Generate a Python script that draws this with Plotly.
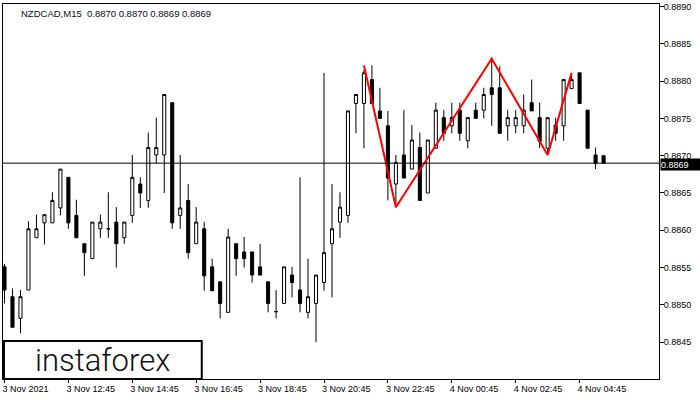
import plotly.graph_objects as go

# ---- data (NZDCAD M15) ----
opens = [0.88551, 0.88511, 0.88482, 0.88520, 0.88590, 0.88610, 0.88610, 0.88630, 0.88671, 0.88620,
         0.88582, 0.88562, 0.88602, 0.88602, 0.88611, 0.88590, 0.88620, 0.88662, 0.88640, 0.88701,
         0.88701, 0.88771, 0.88620, 0.88640, 0.88582, 0.88602, 0.88551, 0.88531, 0.88490, 0.88582,
         0.88571, 0.88571, 0.88551, 0.88531, 0.88491, 0.88502, 0.88540, 0.88520, 0.88490, 0.88502,
         0.88530, 0.88582, 0.88611, 0.88620, 0.88770, 0.88770, 0.88802, 0.88760, 0.88740, 0.88662,
         0.88701, 0.88682, 0.88711, 0.88650, 0.88710, 0.88751, 0.88740, 0.88761, 0.88720, 0.88761,
         0.88761, 0.88791, 0.88791, 0.88740, 0.88740, 0.88740, 0.88771, 0.88751, 0.88710, 0.88741,
         0.88740, 0.88790, 0.88811, 0.88761, 0.88701, 0.88700]
highs = [0.88555, 0.88522, 0.88520, 0.88612, 0.88621, 0.88621, 0.88651, 0.88682, 0.88671, 0.88641,
         0.88582, 0.88611, 0.88621, 0.88651, 0.88631, 0.88611, 0.88701, 0.88671, 0.88731, 0.88751,
         0.88782, 0.88771, 0.88701, 0.88662, 0.88631, 0.88611, 0.88562, 0.88531, 0.88602, 0.88582,
         0.88591, 0.88571, 0.88582, 0.88531, 0.88520, 0.88551, 0.88551, 0.88671, 0.88562, 0.88540,
         0.88811, 0.88662, 0.88651, 0.88760, 0.88782, 0.88815, 0.88821, 0.88791, 0.88760, 0.88701,
         0.88761, 0.88741, 0.88731, 0.88721, 0.88771, 0.88761, 0.88771, 0.88771, 0.88751, 0.88771,
         0.88791, 0.88830, 0.88820, 0.88761, 0.88761, 0.88782, 0.88802, 0.88771, 0.88751, 0.88751,
         0.88802, 0.88810, 0.88811, 0.88761, 0.88711, 0.88700]
lows = [0.88502, 0.88470, 0.88462, 0.88520, 0.88590, 0.88581, 0.88610, 0.88620, 0.88602, 0.88590,
        0.88539, 0.88562, 0.88590, 0.88590, 0.88550, 0.88582, 0.88610, 0.88630, 0.88630, 0.88690,
        0.88650, 0.88602, 0.88602, 0.88562, 0.88582, 0.88519, 0.88519, 0.88482, 0.88490, 0.88539,
        0.88550, 0.88530, 0.88540, 0.88490, 0.88482, 0.88502, 0.88510, 0.88490, 0.88482, 0.88450,
        0.88519, 0.88510, 0.88590, 0.88610, 0.88730, 0.88710, 0.88770, 0.88750, 0.88640, 0.88632,
        0.88670, 0.88682, 0.88640, 0.88650, 0.88710, 0.88720, 0.88730, 0.88720, 0.88710, 0.88750,
        0.88750, 0.88740, 0.88730, 0.88720, 0.88730, 0.88730, 0.88760, 0.88710, 0.88702, 0.88720,
        0.88720, 0.88790, 0.88770, 0.88710, 0.88682, 0.88690]
closes = [0.88520, 0.88470, 0.88511, 0.88602, 0.88602, 0.88621, 0.88640, 0.88682, 0.88610, 0.88590,
          0.88570, 0.88611, 0.88611, 0.88602, 0.88582, 0.88611, 0.88671, 0.88650, 0.88711, 0.88711,
          0.88782, 0.88610, 0.88630, 0.88570, 0.88611, 0.88539, 0.88519, 0.88502, 0.88591, 0.88562,
          0.88562, 0.88540, 0.88540, 0.88502, 0.88491, 0.88551, 0.88530, 0.88502, 0.88511, 0.88540,
          0.88570, 0.88602, 0.88631, 0.88760, 0.88782, 0.88811, 0.88770, 0.88750, 0.88670, 0.88691,
          0.88670, 0.88721, 0.88640, 0.88721, 0.88761, 0.88730, 0.88751, 0.88730, 0.88751, 0.88750,
          0.88782, 0.88782, 0.88730, 0.88751, 0.88751, 0.88761, 0.88760, 0.88719, 0.88751, 0.88730,
          0.88802, 0.88802, 0.88770, 0.88710, 0.88690, 0.88690]
bar_index = list(range(len(opens)))

# pattern (red polyline)
pattern_idx = [45, 49, 61, 68, 71]
pattern_price = [0.88821, 0.88631, 0.88830, 0.88701, 0.88811]

# axis ticks
x_tick_idx = [0, 8, 16, 24, 32, 40, 48, 56, 64, 72]
x_tick_text = ["3 Nov 2021", "3 Nov 12:45", "3 Nov 14:45", "3 Nov 16:45", "3 Nov 18:45",
               "3 Nov 20:45", "3 Nov 22:45", "4 Nov 00:45", "4 Nov 02:45", "4 Nov 04:45"]
y_tick_vals = [0.8845, 0.8850, 0.8855, 0.8860, 0.8865, 0.8870, 0.8875, 0.8880, 0.8885, 0.8890]
y_tick_text = ["%.4f" % v for v in y_tick_vals]

symbol_title = "NZDCAD,M15"

FONT = "Liberation Sans"

fig = go.Figure()
fig.add_trace(go.Candlestick(
    x=bar_index, open=opens, high=highs, low=lows, close=closes,
    increasing=dict(line=dict(color="black", width=1), fillcolor="white"),
    decreasing=dict(line=dict(color="black", width=1), fillcolor="black"),
    whiskerwidth=0, showlegend=False, hoverinfo="skip",
))
fig.add_trace(go.Scatter(
    x=pattern_idx, y=pattern_price, mode="lines",
    line=dict(color="#ff0000", width=2), showlegend=False, hoverinfo="skip",
))

last_close = closes[-1]
fig.add_shape(type="line", xref="paper", x0=0, x1=1, yref="y", y0=last_close, y1=last_close,
              line=dict(color="black", width=1), layer="above")

# watermark box
fig.add_shape(type="rect", xref="paper", yref="paper", x0=0.0015, x1=0.303, y0=0.0, y1=0.1016,
              line=dict(color="black", width=2), fillcolor="white", layer="above")
fig.add_annotation(xref="paper", yref="paper", x=0.152, y=0.049, text="instaforex",
                   showarrow=False, xanchor="center", yanchor="middle",
                   font=dict(family="Roboto", size=31, color="#111111", weight=300))

# title text
title_txt = "%s\u00a0\u00a0%.4f %.4f %.4f %.4f" % (symbol_title, opens[-1], highs[-1], lows[-1], closes[-1])
fig.add_annotation(xref="paper", yref="paper", x=0.0244, y=0.976, text=title_txt,
                   showarrow=False, xanchor="left", yanchor="middle",
                   font=dict(family=FONT, size=9.5, color="#0a0a20"))

# current price label
fig.add_annotation(xref="paper", yref="y", x=1, y=last_close, text="%.4f" % last_close,
                   showarrow=False, xanchor="left", yanchor="middle", xshift=1, yshift=-1,
                   bgcolor="black", font=dict(family=FONT, size=9, color="white"),
                   borderpad=0, width=40, height=11, align="left")

fig.update_layout(
    width=700, height=400, autosize=False,
    margin=dict(l=2, r=41, t=2, b=21),
    paper_bgcolor="white", plot_bgcolor="white",
    boxgap=0.45,
    xaxis=dict(range=[-0.1875, 81.94], rangeslider=dict(visible=False),
               tickmode="array", tickvals=x_tick_idx, ticktext=x_tick_text,
               ticks="outside", ticklen=3, tickcolor="black", ticklabelposition="outside right",
               ticklabelshift=-3, ticklabelstandoff=1,
               showgrid=False, zeroline=False, showline=True, linecolor="black", linewidth=1,
               mirror=True, tickfont=dict(family=FONT, size=9, color="black")),
    yaxis=dict(range=[0.884007, 0.889033], side="right",
               tickmode="array", tickvals=y_tick_vals, ticktext=y_tick_text,
               ticks="outside", ticklen=4, tickcolor="black", ticklabeloverflow="allow",
               ticklabelstandoff=-2,
               showgrid=False, zeroline=False, showline=True, linecolor="black", linewidth=1,
               mirror=True, tickfont=dict(family=FONT, size=9, color="black")),
)

fig.write_html("out.html", config={"displayModeBar": False},
               post_script="document.body.style.margin='0';document.body.style.overflow='hidden';")
